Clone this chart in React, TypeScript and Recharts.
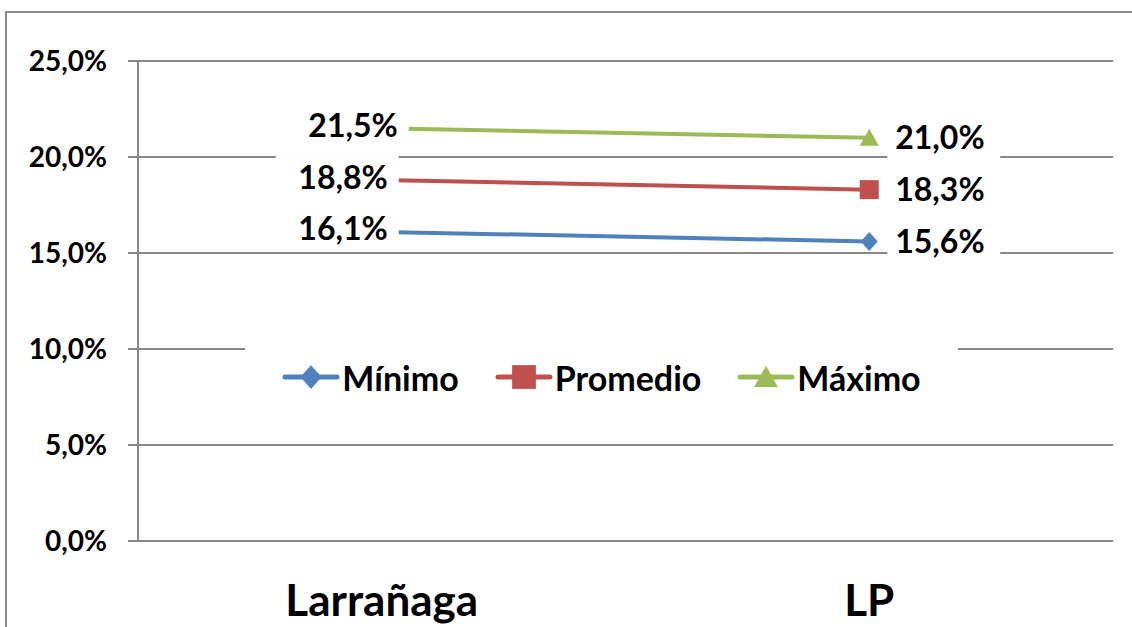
import React from 'react';
import { LineChart, Line, XAxis, YAxis, CartesianGrid, LabelList } from 'recharts';

const categories = ['Larrañaga', 'LP'];
const minimo = [16.1, 15.6];
const promedio = [18.8, 18.3];
const maximo = [21.5, 21.0];
const yTicks = [0, 5, 10, 15, 20, 25];
const edgeTicks = [0, 1, 2];

const seriesNames = ['Mínimo', 'Promedio', 'Máximo'];
const seriesKeys = ['min', 'prom', 'max'];
const seriesColors = ['#4F81BD', '#C0504D', '#9BBB59'];
const seriesShapes = ['diamond', 'square', 'triangle'];

const data = categories.map((c, i) => ({
  name: c,
  min: minimo[i],
  prom: promedio[i],
  max: maximo[i],
}));

const FONT = 'Lato, "Open Sans", sans-serif';
const GRID = '#878787';
const fmt = (v: number) => v.toFixed(1).replace('.', ',') + '%';

function Marker({ shape, cx, cy, color, s = 1 }: any) {
  if (shape === 'diamond') {
    return <path d={`M${cx},${cy - 9.5 * s} L${cx + 8.5 * s},${cy} L${cx},${cy + 9.5 * s} L${cx - 8.5 * s},${cy} Z`} fill={color} />;
  }
  if (shape === 'square') {
    return <rect x={cx - 9.5 * s} y={cy - 9.5 * s} width={19 * s} height={19 * s} fill={color} />;
  }
  return <path d={`M${cx},${cy - 9 * s} L${cx + 9.5 * s},${cy + 8 * s} L${cx - 9.5 * s},${cy + 8 * s} Z`} fill={color} />;
}

const makeDot = (shape: string, color: string) => (props: any) => {
  const { cx, cy, index } = props;
  if (cx == null || cy == null) return <g key={`d${index}`} />;
  return (
    <g key={`d-${shape}-${index}`}>
      <Marker shape={shape} cx={cx} cy={cy} color={color} />
    </g>
  );
};

const makeLabel = (leftShift: number) => (props: any) => {
  const { x, y, value, index } = props;
  const text = fmt(Number(value));
  const fs = 32;
  const tw = 92;
  const h = 42;
  if (index === 0) {
    const end = x + leftShift;
    return (
      <g key={`l${index}`}>
        <rect x={end - tw - 20} y={y - 3 - h / 2} width={tw + 31} height={h} fill="#fff" />
        <text x={end} y={y - 3} dy="0.36em" textAnchor="end" fontFamily={FONT} fontWeight={700} fontSize={fs} fill="#000">
          {text}
        </text>
      </g>
    );
  }
  const start = x + 26;
  return (
    <g key={`l${index}`}>
      <rect x={start - 8} y={y - h / 2} width={tw + 21} height={h} fill="#fff" />
      <text x={start} y={y} dy="0.36em" textAnchor="start" fontFamily={FONT} fontWeight={700} fontSize={fs} fill="#000">
        {text}
      </text>
    </g>
  );
};

const labelShifts = [6, 6, 16];

function LegendBox() {
  return (
    <div
      style={{
        position: 'absolute',
        left: 245,
        top: 340,
        width: 713,
        height: 74,
        background: '#fff',
        display: 'flex',
        alignItems: 'center',
        justifyContent: 'center',
        fontFamily: FONT,
        fontWeight: 700,
        fontSize: 34,
        color: '#000',
        gap: 36,
      }}
    >
      {seriesNames.map((n, i) => (
        <div key={n} style={{ display: 'flex', alignItems: 'center' }}>
          <svg width={58} height={30} style={{ marginRight: 2 }}>
            <line x1={3} y1={15} x2={55} y2={15} stroke={seriesColors[i]} strokeWidth={5} strokeLinecap="round" />
            <Marker shape={seriesShapes[i]} cx={29} cy={15} color={seriesColors[i]} s={1.25} />
          </svg>
          <span>{n}</span>
        </div>
      ))}
    </div>
  );
}

export default function App() {
  return (
    <div style={{ position: 'fixed', left: 0, top: 0, width: 1132, height: 627, background: '#fff', overflow: 'hidden' }}>
      <div style={{ position: 'absolute', left: 0, top: 0 }}>
        <LineChart width={1132} height={627} data={data} margin={{ top: 61, right: 19, bottom: 0, left: 0 }}>
          <CartesianGrid vertical={false} stroke={GRID} strokeWidth={2} />
          <XAxis
            xAxisId="edges"
            type="number"
            domain={[0, 2]}
            ticks={edgeTicks}
            allowDataOverflow
            tick={false}
            tickSize={15}
            axisLine={false}
            tickLine={{ stroke: GRID, strokeWidth: 2 }}
            height={0}
          />
          <XAxis
            xAxisId={0}
            dataKey="name"
            scale="band"
            height={86}
            tickSize={0}
            tickMargin={44}
            axisLine={{ stroke: GRID, strokeWidth: 2 }}
            tickLine={false}
            tick={{ fontFamily: FONT, fontWeight: 700, fontSize: 44, fill: '#000' }}
          />
          <YAxis
            width={138}
            domain={[0, 25]}
            ticks={yTicks}
            tickFormatter={(v: number) => fmt(v)}
            tickSize={10}
            tickMargin={21}
            axisLine={{ stroke: GRID, strokeWidth: 2 }}
            tickLine={{ stroke: GRID, strokeWidth: 2 }}
            tick={{ fontFamily: FONT, fontWeight: 700, fontSize: 28, fill: '#000' }}
          />
          {seriesKeys.map((k, i) => (
            <Line
              key={k}
              dataKey={k}
              name={seriesNames[i]}
              stroke={seriesColors[i]}
              strokeWidth={4}
              dot={makeDot(seriesShapes[i], seriesColors[i])}
              activeDot={false}
              isAnimationActive={false}
            >
              <LabelList dataKey={k} content={makeLabel(labelShifts[i])} />
            </Line>
          ))}
        </LineChart>
      </div>
      <LegendBox />
      <div style={{ position: 'absolute', left: 5, top: 11, width: 1127, height: 2, background: '#8a8a8a', zIndex: 5 }} />
      <div style={{ position: 'absolute', left: 5, top: 11, width: 2, height: 616, background: '#8a8a8a', zIndex: 5 }} />
    </div>
  );
}
